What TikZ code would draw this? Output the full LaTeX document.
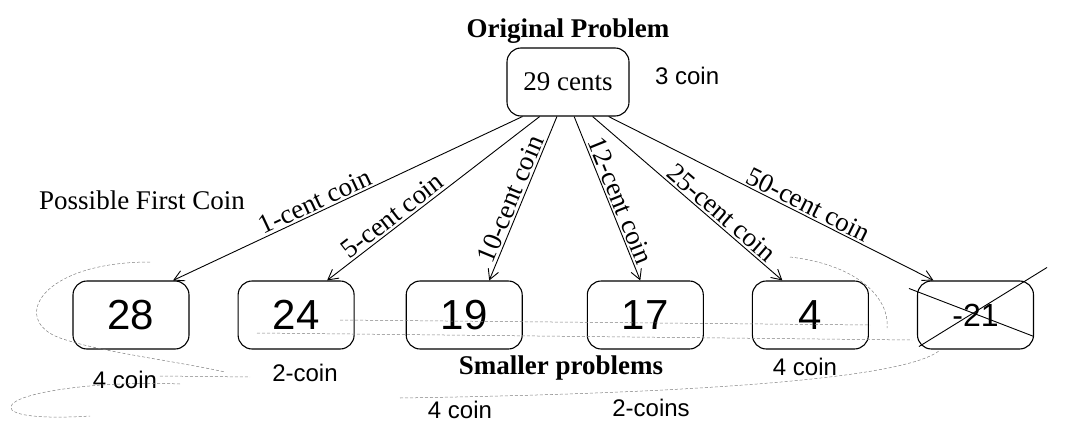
\documentclass[tikz,border=0pt]{standalone}
\usepackage{fontspec}
\setmainfont{Liberation Serif}
\newfontfamily\handfont{Liberation Sans}
\usetikzlibrary{arrows.meta,positioning,calc}

\begin{document}
\begin{tikzpicture}[x=1pt,y=-1pt,
      font=\fontsize{27}{30}\selectfont,node distance=48pt,
      prob/.style={draw,rounded corners=14pt,line width=1.1pt,minimum width=116pt,
                   minimum height=68pt,inner sep=0pt},
      hand/.style={font=\handfont\fontsize{42}{42}\selectfont},
      note/.style={font=\handfont\fontsize{24}{24}\selectfont},
      coinlbl/.style={sloped,above,inner sep=2pt},
      arr/.style={-{Straight Barb[length=10pt,width=11pt]},line width=0.9pt},
      pencil/.style={gray,densely dashed,line width=0.5pt}]
    \useasboundingbox (0,0) rectangle (1069,423);
    \node[prob,minimum width=122pt] (orig) at (568,82) {29 cents};
    \node[font=\fontsize{27}{30}\selectfont\bfseries,above=0pt of orig] (title) {Original Problem};
    \node[note,right=22pt of orig.east,anchor=west,yshift=6pt] (n3) {3 coin};
    \node (first) at (142,200) {Possible First Coin};
    \node[prob,hand] (p28) at (131,315) {28};
    \node[prob,hand,right=of p28] (p24) {24};
    \node[prob,hand,right=51pt of p24] (p19) {19};
    \node[prob,hand,right=64pt of p19] (p17) {17};
    \node[prob,hand,right=of p17] (p4) {4};
    \node[prob,hand,font=\handfont\fontsize{32}{32}\selectfont,right=of p4] (pneg) {-21};
    \node[font=\fontsize{27}{30}\selectfont\bfseries] (small) at (561,368) {Smaller problems};
    % handwritten counts
    \node[note] (n28) at (125,380) {4 coin};
    \node[note] (n24) at (305,373) {2-coin};
    \node[note] (n19) at (460,410) {4 coin};
    \node[note] (n17) at (651,408) {2-coins};
    \node[note] (n4) at (805,367) {4 coin};
    % coin arrows
    \draw[arr] ($(orig.south west)!0.13!(orig.south east)$) -- node[coinlbl,pos=0.58] {1-cent coin} ($(p28.north)+(42,0)$);
    \draw[arr] ($(orig.south west)!0.27!(orig.south east)$) -- node[coinlbl,pos=0.66] {5-cent coin} ($(p24.north)+(31,0)$);
    \draw[arr] ($(orig.south west)!0.41!(orig.south east)$) -- node[coinlbl,pos=0.53] {10-cent coin} ($(p19.north)+(25,0)$);
    \draw[arr] ($(orig.south west)!0.55!(orig.south east)$) -- node[coinlbl,pos=0.54] {12-cent coin} ($(p17.north)+(-5,0)$);
    \draw[arr] ($(orig.south west)!0.70!(orig.south east)$) -- node[coinlbl,pos=0.64] {25-cent coin} ($(p4.north)+(-28,0)$);
    \draw[arr] ($(orig.south west)!0.83!(orig.south east)$) -- node[coinlbl,pos=0.60] {50-cent coin} ($(pneg.north)+(-42,0)$);
    % crossed out
    \draw[line width=0.9pt] ($(pneg.south west)+(2,-3)$) -- ($(pneg.north east)+(13,-13)$);
    \draw[line width=0.9pt] ($(pneg.north west)+(-8,8)$) -- ($(pneg.south east)+(0,-13)$);
    % pencil marks
    \draw[pencil] (150,262) .. controls (40,262) and (10,320) .. (60,338) .. controls (100,352) and (170,360) .. (225,372);
    \draw[pencil] (180,384) .. controls (90,380) and (0,395) .. (12,410) .. controls (20,418) and (60,418) .. (90,416);
    \draw[pencil] (160,376) -- (250,377);
    \draw[pencil] (257,333) -- (912,340);
    \draw[pencil] (340,320) -- (870,325);
    \draw[pencil] (790,257) .. controls (860,265) and (890,300) .. (887,328);
    \draw[pencil] (400,398) .. controls (600,395) and (900,385) .. (940,350);
  \end{tikzpicture}
\end{document}
